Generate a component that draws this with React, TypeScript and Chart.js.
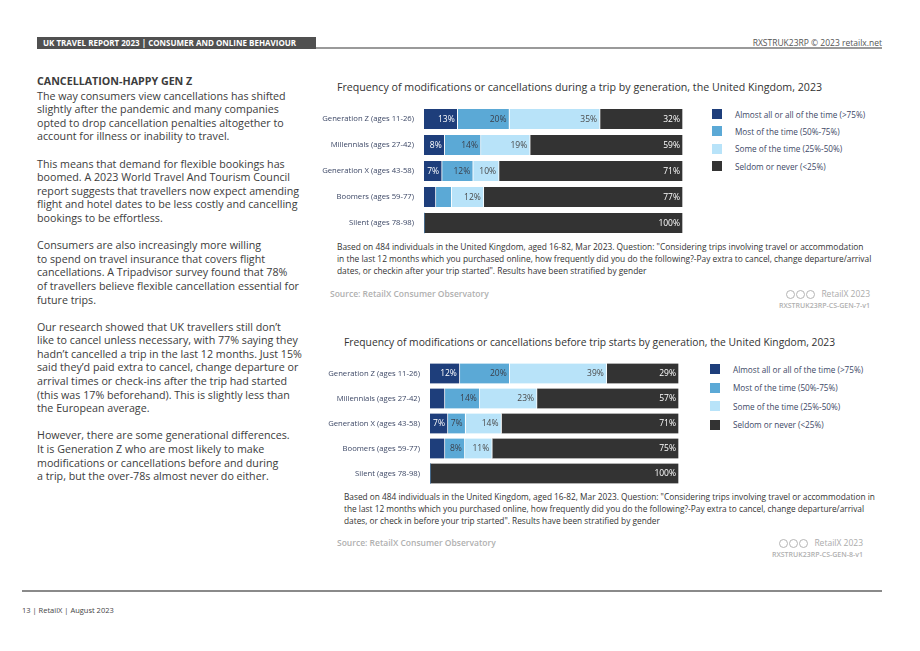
import React, { useEffect, useRef } from "react";
import { Chart, registerables } from "chart.js";

Chart.register(...registerables);

const generations = [
  "Generation Z (ages 11-26)",
  "Millennials (ages 27-42)",
  "Generation X (ages 43-58)",
  "Boomers (ages 59-77)",
  "Silent (ages 78-98)",
];
const frequencyLabels = [
  "Almost all or all of the time (>75%)",
  "Most of the time (50%-75%)",
  "Some of the time (25%-50%)",
  "Seldom or never (<25%)",
];
// During a trip
const duringAlmostAll = [13, 8, 7, 4.6, 0];
const duringMost = [20, 14, 12, 6.1, 0];
const duringSome = [35, 19, 10, 12.4, 0];
const duringSeldom = [32, 59, 71, 76.9, 100];
// Before trip starts
const beforeAlmostAll = [12, 6, 7.2, 6, 0];
const beforeMost = [20, 14, 7.1, 8, 0];
const beforeSome = [39, 23, 14.4, 11, 0];
const beforeSeldom = [29, 57, 71.3, 75, 100];

const seriesColors = ["#1e3e7b", "#5ba9d6", "#b8e3f9", "#333333"];
const valueLabelColors = ["#ffffff", "#3a3f4a", "#4a4a4a", "#ffffff"];
const FONT = "'Open Sans', 'Noto Sans', sans-serif";

const segmentLabels = {
  id: "segmentLabels",
  afterDatasetsDraw(chart: any) {
    const ctx = chart.ctx;
    ctx.save();
    ctx.font = "8.5px 'Open Sans'";
    ctx.textAlign = "right";
    ctx.textBaseline = "middle";
    chart.data.datasets.forEach((ds: any, di: number) => {
      const meta = chart.getDatasetMeta(di);
      meta.data.forEach((bar: any, i: number) => {
        const v = ds.data[i];
        if (v < 6.5) return;
        ctx.fillStyle = valueLabelColors[di];
        ctx.fillText(Math.round(v) + "%", bar.x - 3, bar.y + 0.5);
      });
    });
    ctx.restore();
  },
};

function StackedChart(props: {
  series: number[][];
  width: number;
  height: number;
  axisWidth: number;
  style: React.CSSProperties;
}) {
  const ref = useRef<HTMLCanvasElement>(null);
  useEffect(() => {
    if (!ref.current) return;
    const chart = new Chart(ref.current, {
      type: "bar",
      data: {
        labels: generations,
        datasets: props.series.map((d, i) => ({
          label: frequencyLabels[i],
          data: d,
          backgroundColor: seriesColors[i],
          borderColor: "#ffffff",
          borderWidth: { top: 0, bottom: 0, left: 0, right: 1 },
          borderSkipped: false,
          barThickness: 20,
        })),
      },
      options: {
        indexAxis: "y",
        responsive: false,
        animation: false,
        devicePixelRatio: 1,
        layout: { padding: 0 },
        plugins: {
          legend: { display: false },
          tooltip: { enabled: false },
          title: { display: false },
        },
        scales: {
          x: { stacked: true, min: 0, max: 100, display: false },
          y: {
            stacked: true,
            grid: { display: false },
            border: { display: false },
            ticks: {
              color: "#3d4866",
              padding: 2,
              font: { family: FONT, size: 7.7 },
            },
            afterFit: (scale: any) => {
              scale.width = props.axisWidth;
              scale.paddingTop = 0;
              scale.paddingBottom = 0;
            },
          },
        },
      },
      plugins: [segmentLabels],
    } as any);
    return () => chart.destroy();
  }, []);
  return (
    <canvas
      ref={ref}
      width={props.width}
      height={props.height}
      style={{ position: "absolute", width: props.width, height: props.height, ...props.style }}
    />
  );
}

function Legend(props: { left: number; top: number; spacing: number }) {
  return (
    <div style={{ position: "absolute", left: props.left, top: props.top }}>
      {frequencyLabels.map((l, i) => (
        <div
          key={l}
          style={{
            position: "absolute",
            top: i * props.spacing,
            left: 0,
            height: 10,
            whiteSpace: "nowrap",
            display: "flex",
            alignItems: "center",
          }}
        >
          <span style={{ display: "inline-block", width: 10, height: 10, background: seriesColors[i] }} />
          <span style={{ marginLeft: 13, fontSize: 8.2, color: "#3d4866", fontFamily: FONT }}>{l}</span>
        </div>
      ))}
    </div>
  );
}

function CC(props: { right: number; top: number; code: string }) {
  const circ: React.CSSProperties = {
    display: "inline-block",
    width: 7,
    height: 7,
    borderRadius: "50%",
    border: "1px solid #b5b5b5",
    marginRight: 1,
    verticalAlign: "middle",
  };
  return (
    <div style={{ position: "absolute", right: 920 - props.right, top: props.top, textAlign: "right", fontFamily: FONT, whiteSpace: "nowrap" }}>
      <div style={{ fontSize: 8.5, color: "#ababab", lineHeight: "12px" }}>
        <span style={circ} />
        <span style={circ} />
        <span style={circ} />
        <span style={{ marginLeft: 5 }}>RetailX 2023</span>
      </div>
      <div style={{ fontSize: 7, color: "#b0b0b0", fontWeight: 600, lineHeight: "11px" }}>{props.code}</div>
    </div>
  );
}

const paragraphs = [
  [
    "The way consumers view cancellations has shifted",
    "slightly after the pandemic and many companies",
    "opted to drop cancellation penalties altogether to",
    "account for illness or inability to travel.",
  ],
  [
    "This means that demand for flexible bookings has",
    "boomed. A 2023 World Travel And Tourism Council",
    "report suggests that travellers now expect amending",
    "flight and hotel dates to be less costly and cancelling",
    "bookings to be effortless.",
  ],
  [
    "Consumers are also increasingly more willing",
    "to spend on travel insurance that covers flight",
    "cancellations. A Tripadvisor survey found that 78%",
    "of travellers believe flexible cancellation essential for",
    "future trips.",
  ],
  [
    "Our research showed that UK travellers still don\u2019t",
    "like to cancel unless necessary, with 77% saying they",
    "hadn\u2019t cancelled a trip in the last 12 months. Just 15%",
    "said they\u2019d paid extra to cancel, change departure or",
    "arrival times or check-ins after the trip had started",
    "(this was 17% beforehand). This is slightly less than",
    "the European average.",
  ],
  [
    "However, there are some generational differences.",
    "It is Generation Z who are most likely to make",
    "modifications or cancellations before and during",
    "a trip, but the over-78s almost never do either.",
  ],
];

const note1 = [
  'Based on 484 individuals in the United Kingdom, aged 16-82, Mar 2023. Question: "Considering trips involving travel or accommodation',
  "in the last 12 months which you purchased online, how frequently did you do the following?-Pay extra to cancel, change departure/arrival",
  'dates, or checkin after your trip started". Results have been stratified by gender',
];
const note2 = [
  'Based on 484 individuals in the United Kingdom, aged 16-82, Mar 2023. Question: "Considering trips involving travel or accommodation in',
  "the last 12 months which you purchased online, how frequently did you do the following?-Pay extra to cancel, change departure/arrival",
  'dates, or check in before your trip started". Results have been stratified by gender',
];

export default function App() {
  const abs = (l: number, t: number, extra: React.CSSProperties = {}): React.CSSProperties => ({
    position: "absolute",
    left: l,
    top: t,
    whiteSpace: "nowrap",
    fontFamily: FONT,
    ...extra,
  });
  return (
    <div style={{ position: "absolute", left: 0, top: 0, width: 920, height: 651, background: "#ffffff", overflow: "hidden" }}>
      {/* header */}
      <div style={abs(37, 37, { width: 279, height: 12, background: "#505050" })} />
      <div style={abs(43, 37, { fontSize: 8, fontWeight: 700, color: "#ffffff", lineHeight: "12px" })}>
        UK TRAVEL REPORT 2023 | CONSUMER AND ONLINE BEHAVIOUR
      </div>
      <div style={abs(316, 47, { width: 566, height: 2, background: "#9a9a9a" })} />
      <div style={{ position: "absolute", right: 38, top: 37, fontFamily: FONT, fontSize: 8.5, color: "#555", lineHeight: "12px", whiteSpace: "nowrap" }}>
        RXSTRUK23RP © 2023 retailx.net
      </div>

      {/* left column */}
      <div style={abs(37, 75, { fontSize: 10.7, lineHeight: "13.6px", color: "#3c3c3c" })}>
        <div style={{ fontWeight: 700, marginBottom: 1 }}>CANCELLATION-HAPPY GEN Z</div>
        {paragraphs.map((p, i) => (
          <div key={i} style={{ marginBottom: 13.6 }}>
            {p.map((line, j) => (
              <div key={j}>{line}</div>
            ))}
          </div>
        ))}
      </div>

      {/* chart 1 */}
      <div style={abs(337, 80, { fontSize: 10.65, color: "#333", lineHeight: "14px" })}>
        Frequency of modifications or cancellations during a trip by generation, the United Kingdom, 2023
      </div>
      <StackedChart
        series={[duringAlmostAll, duringMost, duringSome, duringSeldom]}
        width={363}
        height={130}
        axisWidth={104}
        style={{ left: 320, top: 106 }}
      />
      <Legend left={712} top={109} spacing={17.4} />
      <div style={abs(337, 241, { fontSize: 8.4, color: "#333", lineHeight: "12px" })}>
        {note1.map((l, i) => (
          <div key={i}>{l}</div>
        ))}
      </div>
      <div style={abs(330, 288, { fontSize: 8.5, color: "#b0b0b0", fontWeight: 600, lineHeight: "12px" })}>
        Source: RetailX Consumer Observatory
      </div>
      <CC right={870} top={288} code="RXSTRUK23RP-CS-GEN-7-v1" />

      {/* chart 2 */}
      <div style={abs(344, 335, { fontSize: 10.3, color: "#333", lineHeight: "14px" })}>
        Frequency of modifications or cancellations before trip starts by generation, the United Kingdom, 2023
      </div>
      <StackedChart
        series={[beforeAlmostAll, beforeMost, beforeSome, beforeSeldom]}
        width={354}
        height={125}
        axisWidth={105}
        style={{ left: 325, top: 361 }}
      />
      <Legend left={710} top={364} spacing={18.6} />
      <div style={abs(344, 491, { fontSize: 8.3, color: "#333", lineHeight: "12px" })}>
        {note2.map((l, i) => (
          <div key={i}>{l}</div>
        ))}
      </div>
      <div style={abs(337, 537, { fontSize: 8.5, color: "#b0b0b0", fontWeight: 600, lineHeight: "12px" })}>
        Source: RetailX Consumer Observatory
      </div>
      <CC right={863} top={537} code="RXSTRUK23RP-CS-GEN-8-v1" />

      {/* footer */}
      <div style={abs(22, 590, { width: 860, height: 2, background: "#8a8a8a" })} />
      <div style={abs(22, 604, { fontSize: 7.5, color: "#444", lineHeight: "12px" })}>13 | RetailX | August 2023</div>
    </div>
  );
}
